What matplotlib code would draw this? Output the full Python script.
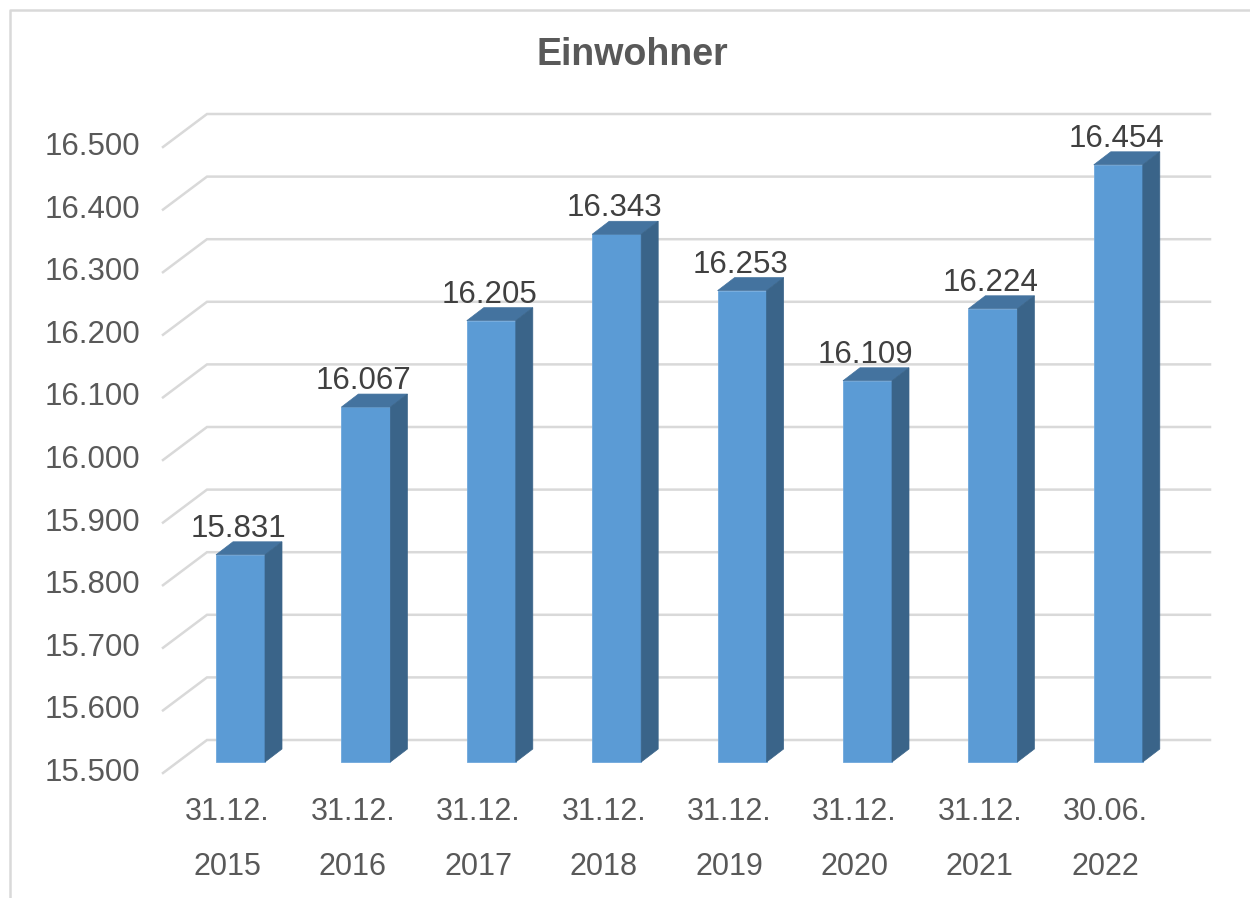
import numpy as np
import matplotlib
matplotlib.use("Agg")
import matplotlib.pyplot as plt
from matplotlib.patches import Polygon
from matplotlib.lines import Line2D

plt.rcParams['font.family'] = ['Liberation Sans', 'DejaVu Sans']

# data
dates = ['31.12.', '31.12.', '31.12.', '31.12.', '31.12.', '31.12.', '31.12.', '30.06.']
years = ['2015', '2016', '2017', '2018', '2019', '2020', '2021', '2022']
einwohner = [15831, 16067, 16205, 16343, 16253, 16109, 16224, 16454]
yticks = [15500, 15600, 15700, 15800, 15900, 16000, 16100, 16200, 16300, 16400, 16500]

W, H = 1250, 898
fig = plt.figure(figsize=(W / 100, H / 100), dpi=100)
ax = fig.add_axes([0, 0, 1, 1])
ax.axis('off')

# scale: pixels per category / per unit
PX_CAT = 125.4
PX_VAL = 0.626
X0 = 240.5          # pixel x of first bar centre
BASE = 15500
BASE_Y = 136        # pixel (from bottom) of the base on the bar front plane
DX = 1 / PX_CAT
DY = 1 / PX_VAL

ax.set_xlim(-X0 * DX, (W - X0) * DX)
ax.set_ylim(BASE - BASE_Y * DY, BASE + (H - BASE_Y) * DY)


def px_x(p):
    return (p - X0) * DX


def fmt(v):
    return f"{v:,}".replace(',', '.')


grid_col = '#D9D9D9'
# back wall gridlines plus the diagonal on the side wall
for v in yticks:
    yb = v + 22 * DY
    yf = v - 11 * DY
    ax.plot([px_x(163), px_x(207), px_x(1210)], [yf, yb, yb],
            color=grid_col, lw=1.8, solid_joinstyle='miter', zorder=1)
    ax.text(px_x(140), yf, fmt(v), ha='right', va='center',
            fontsize=22.5, color='#595959')

x = np.arange(len(einwohner))
w = 49 * DX
ddx, ddy = 17 * DX, 13 * DY
front = '#5B9BD5'
top_col = '#44739F'
side_col = '#3A6489'

ax.bar(x, np.array(einwohner) - BASE, bottom=BASE, width=w,
       color=front, edgecolor='#6FA8DC', linewidth=0.6, zorder=3)
for xi, v in zip(x, einwohner):
    l, r = xi - w / 2, xi + w / 2
    ax.add_patch(Polygon([(l, v), (r, v), (r + ddx, v + ddy), (l + ddx, v + ddy)],
                         closed=True, facecolor=top_col, edgecolor=top_col,
                         lw=0.5, zorder=3))
    ax.add_patch(Polygon([(r, BASE), (r, v), (r + ddx, v + ddy), (r + ddx, BASE + ddy)],
                         closed=True, facecolor=side_col, edgecolor=side_col,
                         lw=0.5, zorder=3))
    ax.text(xi - 2 * DX, v + 18 * DY, fmt(v), ha='center', va='baseline',
            fontsize=22.5, color='#404040', zorder=4)

# category labels (two lines)
for xi, d, yr in zip(x, dates, years):
    ax.text(xi - 13 * DX, BASE - (820 - 762) * DY, d, ha='center', va='baseline',
            fontsize=22, color='#595959')
    ax.text(xi - 13 * DX, BASE - (875 - 762) * DY, yr, ha='center', va='baseline',
            fontsize=22, color='#595959')

fig.text(632 / W, 1 - 65 / H, 'Einwohner', ha='center', va='baseline',
         fontsize=27, fontweight='bold', color='#595959')

# chart border (left and top visible)
fig.add_artist(Line2D([10 / W, 10 / W, 1.0], [0.0, 1 - 10 / H, 1 - 10 / H],
                      transform=fig.transFigure, color=grid_col, lw=1.8))

fig.savefig('out.png', dpi=100, facecolor='white')
